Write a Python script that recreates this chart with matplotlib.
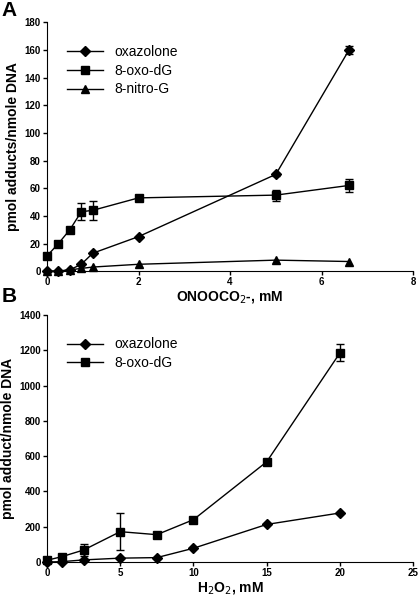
import numpy as np
import matplotlib.pyplot as plt

plt.rcParams['font.family'] = ['Liberation Sans', 'DejaVu Sans']

# Panel A data (ONOOCO2-)
xa = [0, 0.25, 0.5, 0.75, 1, 2, 5, 6.6]
oxa_a = [0, 0, 1, 5, 13, 25, 70, 160]
oxa_a_err = [0, 0, 0, 0, 0, 0, 1, 3]
oxo_a = [11, 20, 30, 43, 44, 53, 55, 62]
oxo_a_err = [2, 1.5, 1.5, 6, 7, 1.5, 4, 5]
nitro_a = [0, 0, 1, 2, 3, 5, 8, 7]

# Panel B data (H2O2)
xb = [0, 1, 2.5, 5, 7.5, 10, 15, 20]
oxa_b = [0, 2, 12, 22, 25, 78, 213, 278]
oxo_b = [10, 30, 68, 172, 155, 240, 568, 1185]
oxo_b_err = [5, 10, 35, 105, 10, 10, 10, 48]

fig = plt.figure(figsize=(4.18, 6), dpi=100)
axA = fig.add_axes([0.1124, 0.548, 0.876, 0.415])
axB = fig.add_axes([0.1124, 0.0633, 0.876, 0.4117])

ekw = dict(fmt='none', ecolor='black', capsize=3, elinewidth=1, capthick=1)
lkw = dict(color='black', lw=1)

# панель A
axA.errorbar(xa, oxa_a, yerr=oxa_a_err, **ekw)
axA.errorbar(xa, oxo_a, yerr=oxo_a_err, **ekw)
axA.plot(xa, oxa_a, marker='D', ms=5, label='oxazolone', **lkw)
axA.plot(xa, oxo_a, marker='s', ms=6, label='8-oxo-dG', **lkw)
axA.plot(xa, nitro_a, marker='^', ms=6, label='8-nitro-G', **lkw)
axA.set_xlim(0, 8)
axA.set_ylim(0, 180)
axA.set_xticks(range(0, 9, 2))
axA.set_yticks(range(0, 181, 20))
axA.set_ylabel('pmol adducts/nmole DNA', fontsize=10, fontweight='bold', labelpad=3)
axA.set_xlabel('ONOOCO$_2$-, mM', fontsize=10, fontweight='bold', labelpad=1)

# панель B
axB.errorbar(xb, oxo_b, yerr=oxo_b_err, **ekw)
axB.plot(xb, oxa_b, marker='D', ms=5, label='oxazolone', **lkw)
axB.plot(xb, oxo_b, marker='s', ms=6, label='8-oxo-dG', **lkw)
axB.set_xlim(0, 25)
axB.set_ylim(0, 1400)
axB.set_xticks(range(0, 26, 5))
axB.set_yticks(range(0, 1401, 200))
axB.set_ylabel('pmol adduct/nmole DNA', fontsize=10, fontweight='bold', labelpad=3)
axB.set_xlabel('H$_2$O$_2$, mM', fontsize=10, fontweight='bold', labelpad=1)

for ax in (axA, axB):
    for s in ('top', 'right'):
        ax.spines[s].set_visible(False)
    ax.tick_params(direction='out', length=3, width=1, labelsize=7, pad=1.5)
    for lab in ax.get_xticklabels() + ax.get_yticklabels():
        lab.set_fontweight('bold')
    ax.legend(loc='upper left', bbox_to_anchor=(0.02, 0.96), frameon=False,
              fontsize=10, handlelength=2.6, labelspacing=0.35, handletextpad=0.8)
    for c in ax.get_children():
        if hasattr(c, 'set_clip_on'):
            c.set_clip_on(False)

fig.text(0.003, 0.998, 'A', fontsize=15, fontweight='bold', va='top')
fig.text(0.003, 0.522, 'B', fontsize=15, fontweight='bold', va='top')

fig.savefig('out.png', dpi=100)
